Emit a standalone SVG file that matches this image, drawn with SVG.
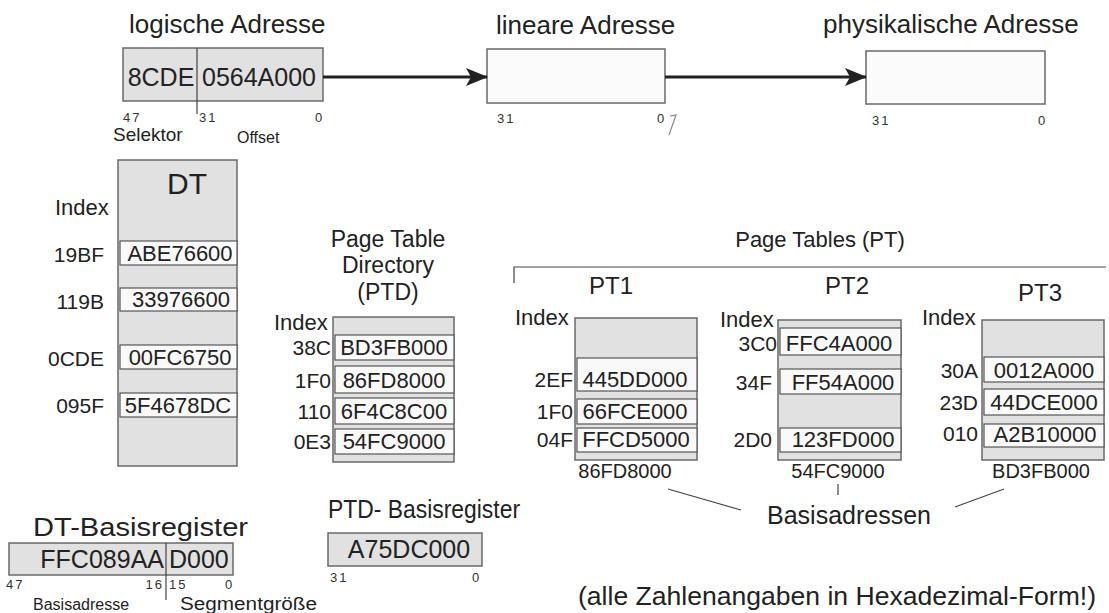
<svg xmlns="http://www.w3.org/2000/svg" width="1109" height="613" viewBox="0 0 1109 613">
  <defs>
    <marker id="head" markerUnits="userSpaceOnUse" markerWidth="22" markerHeight="20" viewBox="0 0 22 20" refX="21" refY="10" orient="auto">
      <path d="M0,1 L22,10 L0,19 L5,10 Z" fill="#222"/>
    </marker>
    <style>
      text { font-family: "Liberation Sans", Arial, sans-serif; fill: #222; }
      .title { font-size: 26px; }
      .val { font-size: 22px; text-anchor: middle; }
      .idx { font-size: 21px; text-anchor: end; }
      .bit { font-size: 13px; letter-spacing: 2px; fill: #333; }
      .shade { fill: #e1e1e1; stroke: #6a6a6a; stroke-width: 1.5; }
      .blank { fill: #fbfbfb; stroke: #6a6a6a; stroke-width: 1.5; }
      .row { fill: #f9f9f9; stroke: #555; stroke-width: 1.2; }
      .arrow { stroke: #222; stroke-width: 3; fill: none; }
      .thin { stroke: #444; stroke-width: 1.2; fill: none; }
    </style>
  </defs>
  <rect width="1109" height="613" fill="#ffffff"/>

  <!-- logical address: selector + offset -->
  <g id="logical-address">
    <text class="title" x="129" y="33">logische Adresse</text>
    <rect class="shade" x="123" y="48" width="200" height="53"/>
    <line class="thin" x1="197" y1="48" x2="197" y2="114"/>
    <text x="161" y="86" font-size="25" text-anchor="middle">8CDE</text>
    <text x="259" y="86" font-size="25" text-anchor="middle">0564A000</text>
    <text class="bit" x="123" y="122">47</text>
    <text class="bit" x="199" y="122">31</text>
    <text class="bit" x="315" y="122">0</text>
    <text x="113" y="141" font-size="19">Selektor</text>
    <text x="237" y="143" font-size="16">Offset</text>
  </g>

  <!-- linear address -->
  <g id="linear-address">
    <text class="title" x="496" y="34">lineare Adresse</text>
    <rect class="blank" x="487" y="49" width="178" height="54"/>
    <text class="bit" x="497" y="123">31</text>
    <text class="bit" x="657" y="123">0</text>
  </g>

  <!-- physical address -->
  <g id="physical-address">
    <text class="title" x="823" y="33">physikalische Adresse</text>
    <rect class="blank" x="866" y="51" width="179" height="53"/>
    <text class="bit" x="872" y="125">31</text>
    <text class="bit" x="1038" y="125">0</text>
  </g>

  <!-- descriptor table -->
  <g id="dt">
    <rect class="shade" x="118" y="160" width="119" height="306"/>
    <text x="187" y="194" font-size="30" text-anchor="middle">DT</text>
    <text x="55" y="215" font-size="22">Index</text>
    <rect class="row" x="120" y="241" width="117" height="24"/>
    <rect class="row" x="120" y="288" width="117" height="23"/>
    <rect class="row" x="120" y="345" width="117" height="24"/>
    <rect class="row" x="120" y="393" width="117" height="24"/>
    <text class="val" x="180" y="261">ABE76600</text>
    <text class="val" x="181" y="307">33976600</text>
    <text class="val" x="180" y="365">00FC6750</text>
    <text class="val" x="178" y="413">5F4678DC</text>
    <text class="idx" x="104" y="262">19BF</text>
    <text class="idx" x="104" y="309">119B</text>
    <text class="idx" x="104" y="366">0CDE</text>
    <text class="idx" x="104" y="413">095F</text>
  </g>

  <!-- page table directory -->
  <g id="ptd">
    <text x="388" y="247" font-size="23" text-anchor="middle">Page Table</text>
    <text x="388" y="273" font-size="23" text-anchor="middle">Directory</text>
    <text x="388" y="300" font-size="23" text-anchor="middle">(PTD)</text>
    <rect class="shade" x="333" y="317" width="121" height="145"/>
    <rect class="row" x="335" y="335" width="119" height="25"/>
    <rect class="row" x="335" y="366" width="119" height="27"/>
    <rect class="row" x="335" y="398" width="119" height="26"/>
    <rect class="row" x="335" y="429" width="119" height="25"/>
    <text class="val" x="394" y="355" font-size="23">BD3FB000</text>
    <text class="val" x="394" y="388" font-size="23">86FD8000</text>
    <text class="val" x="394" y="419" font-size="23">6F4C8C00</text>
    <text class="val" x="394" y="449" font-size="23">54FC9000</text>
    <text x="274" y="330" font-size="22">Index</text>
    <text class="idx" x="331" y="355" font-size="22">38C</text>
    <text class="idx" x="331" y="388" font-size="22">1F0</text>
    <text class="idx" x="331" y="419" font-size="22">110</text>
    <text class="idx" x="331" y="449" font-size="22">0E3</text>
  </g>

  <!-- page tables heading with bracket -->
  <g id="page-tables">
    <text x="820" y="247" font-size="22" text-anchor="middle">Page Tables (PT)</text>
    <path class="thin" d="M514,283 L514,267 L1106,267"/>
  </g>

  <g id="pt1">
    <text x="611" y="294" font-size="24" text-anchor="middle">PT1</text>
    <text x="515" y="325" font-size="22">Index</text>
    <rect class="shade" x="575" y="318" width="122" height="142"/>
    <rect class="row" x="577" y="358" width="120" height="33"/>
    <rect class="row" x="577" y="399" width="120" height="25"/>
    <rect class="row" x="577" y="428" width="120" height="24"/>
    <text class="val" x="635" y="387">445DD000</text>
    <text class="val" x="635" y="419">66FCE000</text>
    <text class="val" x="636" y="447">FFCD5000</text>
    <text class="idx" x="573" y="387">2EF</text>
    <text class="idx" x="573" y="419">1F0</text>
    <text class="idx" x="573" y="447">04F</text>
  </g>

  <g id="pt2">
    <text x="847" y="294" font-size="24" text-anchor="middle">PT2</text>
    <text x="720" y="327" font-size="22">Index</text>
    <rect class="shade" x="778" y="320" width="123" height="140"/>
    <rect class="row" x="780" y="328" width="121" height="27"/>
    <rect class="row" x="780" y="369" width="121" height="25"/>
    <rect class="row" x="780" y="428" width="121" height="24"/>
    <text class="val" x="839" y="351">FFC4A000</text>
    <text class="val" x="843" y="390">FF54A000</text>
    <text class="val" x="843" y="447">123FD000</text>
    <text class="idx" x="777" y="351">3C0</text>
    <text class="idx" x="772" y="390">34F</text>
    <text class="idx" x="772" y="447">2D0</text>
  </g>

  <g id="pt3">
    <text x="1040" y="301" font-size="24" text-anchor="middle">PT3</text>
    <text x="922" y="325" font-size="22">Index</text>
    <rect class="shade" x="982" y="320" width="122" height="140"/>
    <rect class="row" x="984" y="357" width="120" height="25"/>
    <rect class="row" x="984" y="389" width="120" height="26"/>
    <rect class="row" x="984" y="424" width="120" height="23"/>
    <text class="val" x="1044" y="378">0012A000</text>
    <text class="val" x="1044" y="410">44DCE000</text>
    <text class="val" x="1045" y="442">A2B10000</text>
    <text class="idx" x="978" y="378">30A</text>
    <text class="idx" x="978" y="410">23D</text>
    <text class="idx" x="978" y="441">010</text>
  </g>

  <!-- DT base register: base address + segment size -->
  <g id="dt-base-register">
    <text x="33" y="536" font-size="26" textLength="215" lengthAdjust="spacingAndGlyphs">DT-Basisregister</text>
    <rect class="shade" x="9" y="543" width="224" height="32"/>
    <line class="thin" x1="166" y1="543" x2="166" y2="600"/>
    <text x="164" y="568" font-size="25" text-anchor="end">FFC089AA</text>
    <text x="169" y="568" font-size="25">D000</text>
    <text class="bit" x="6" y="589">47</text>
    <text class="bit" x="164" y="589" text-anchor="end">16</text>
    <text class="bit" x="169" y="589">15</text>
    <text class="bit" x="225" y="589">0</text>
    <text x="33" y="610" font-size="16" fill="#333">Basisadresse</text>
    <text x="180" y="610" font-size="18" textLength="137" lengthAdjust="spacingAndGlyphs">Segmentgröße</text>
  </g>

  <!-- PTD base register -->
  <g id="ptd-base-register">
    <text x="328" y="518" font-size="25" textLength="192" lengthAdjust="spacingAndGlyphs">PTD- Basisregister</text>
    <rect class="shade" x="328" y="533" width="154" height="33"/>
    <text x="409" y="558" font-size="25" text-anchor="middle">A75DC000</text>
    <text class="bit" x="330" y="582">31</text>
    <text class="bit" x="472" y="582">0</text>
  </g>

  <!-- base addresses of the page tables -->
  <g id="base-addresses">
    <text x="625" y="478" font-size="20" text-anchor="middle">86FD8000</text>
    <text x="838" y="478" font-size="20" text-anchor="middle">54FC9000</text>
    <text x="1041" y="478" font-size="20" text-anchor="middle">BD3FB000</text>
    <text x="849" y="524" font-size="25" text-anchor="middle">Basisadressen</text>
  </g>

  <g id="connectors">
    <line class="arrow" x1="323" y1="77" x2="487" y2="77" marker-end="url(#head)"/>
    <line class="arrow" x1="665" y1="77" x2="866" y2="77" marker-end="url(#head)"/>
    <line class="thin" x1="668" y1="489" x2="741" y2="510"/>
    <line class="thin" x1="838" y1="484" x2="838" y2="495"/>
    <line class="thin" x1="1004" y1="489" x2="955" y2="507"/>
    <path d="M670,116 L676,115 L669,135" stroke="#888" stroke-width="1.2" fill="none"/>
  </g>

  <text x="578" y="605" font-size="26" textLength="518" lengthAdjust="spacingAndGlyphs">(alle Zahlenangaben in Hexadezimal-Form!)</text>
</svg>
